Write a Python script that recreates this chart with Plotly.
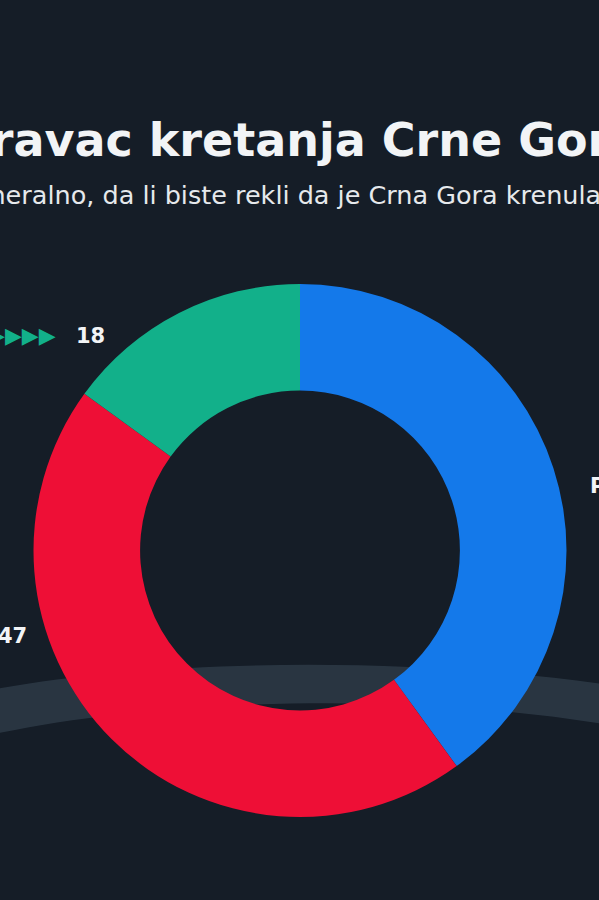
import plotly.graph_objects as go

# ---- data ----
categories = ["Pravim putem", "Pogrešnim putem", "Ne znam"]
slice_share = [40, 45, 15]          # arc sizes as drawn in the picture
printed_value = ["", "47", "18"]    # numbers printed next to the slices
colors = ["#1479EA", "#EE0F36", "#12B08A"]

title_text = "Pravac kretanja Crne Gore"
subtitle_text = "Generalno, da li biste rekli da je Crna Gora krenula u dobrom ili lošem pravcu?"

W, H = 599, 900
BG = "#151D27"

def px(x):
    return x / W

def py(y):
    return 1 - y / H

fig = go.Figure()

fig.add_trace(go.Pie(
    labels=categories,
    values=slice_share,
    hole=0.6,
    sort=False,
    direction="clockwise",
    rotation=0,
    marker=dict(colors=colors, line=dict(width=0)),
    textinfo="none",
    hoverinfo="label+value",
    showlegend=False,
    domain=dict(x=[px(33), px(567)], y=[py(817), py(284)]),
))

WHITE = "#F2F4F6"
annotations = [
    dict(text=title_text, x=px(-45), y=py(140), xanchor="left", yanchor="middle",
         font=dict(family="DejaVu Sans", size=46, color=WHITE, weight="bold")),
    dict(text=subtitle_text, x=px(-48), y=py(195), xanchor="left", yanchor="middle",
         font=dict(family="DejaVu Sans", size=25.5, color="#E6E9EC")),
    # green slice label
    dict(text="▶▶▶▶", x=px(58), y=py(336), xanchor="right", yanchor="middle",
         font=dict(family="DejaVu Sans", size=22, color="#12B08A")),
    dict(text=printed_value[2], x=px(74), y=py(336), xanchor="left", yanchor="middle",
         font=dict(family="DejaVu Sans", size=21, color=WHITE, weight="bold")),
    # red slice label
    dict(text=printed_value[1], x=px(29), y=py(636), xanchor="right", yanchor="middle",
         font=dict(family="DejaVu Sans", size=21, color=WHITE, weight="bold")),
    # blue slice label (cut by the right edge)
    dict(text=categories[0], x=px(588), y=py(486), xanchor="left", yanchor="middle",
         font=dict(family="DejaVu Sans", size=21, color=WHITE, weight="bold")),
]
for a in annotations:
    a["showarrow"] = False
    a["xref"] = "paper"
    a["yref"] = "paper"

# faint glowing band of the background artwork
shapes = [
    dict(type="path", xref="paper", yref="paper",
         path=f"M {px(-10)} {py(690)} C {px(150)} {py(660)}, {px(400)} {py(655)}, {px(610)} {py(685)} "
              f"L {px(610)} {py(725)} C {px(400)} {py(690)}, {px(150)} {py(700)}, {px(-10)} {py(735)} Z",
         fillcolor="#86A6BE", opacity=0.18, line=dict(width=0), layer="below"),
]

fig.update_layout(
    width=W, height=H,
    margin=dict(l=0, r=0, t=0, b=0),
    paper_bgcolor=BG, plot_bgcolor=BG,
    annotations=annotations,
    shapes=shapes,
)

fig.write_html(
    "out.html",
    config={"displayModeBar": False},
    post_script="document.body.style.margin='0';document.body.style.overflow='hidden';"
                "document.body.style.background='#151D27';",
)
